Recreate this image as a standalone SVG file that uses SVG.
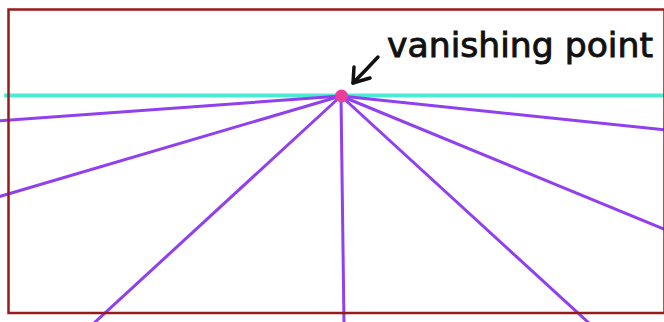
<svg xmlns="http://www.w3.org/2000/svg" width="664" height="322" viewBox="0 0 664 322">
  <style>
    .ray { stroke: #9040ef; stroke-width: 3; fill: none; stroke-linecap: round; }
    .horizon { stroke: #4eead6; stroke-width: 4; fill: none; }
    .frame { stroke: #9a1a1a; stroke-width: 2.5; fill: none; }
    .hand { stroke: #111; stroke-width: 3.5; fill: none; stroke-linecap: round; stroke-linejoin: round; }
    .label { font-family: "DejaVu Sans", "Liberation Sans", sans-serif; font-size: 34px; fill: #111; stroke: #111; stroke-width: 0.9; }
  </style>
  <rect width="664" height="322" fill="#ffffff"/>
  <g id="horizon">
    <line class="horizon" x1="4" y1="95.5" x2="664" y2="95.5"/>
  </g>
  <g id="connectors">
    <line class="ray" x1="341" y1="96" x2="-2" y2="121"/>
    <line class="ray" x1="341" y1="96" x2="-2" y2="197"/>
    <line class="ray" x1="341" y1="96" x2="93" y2="324"/>
    <line class="ray" x1="341" y1="96" x2="344" y2="324"/>
    <line class="ray" x1="341" y1="96" x2="590" y2="324"/>
    <line class="ray" x1="341" y1="96" x2="666" y2="230"/>
    <line class="ray" x1="341" y1="96" x2="666" y2="130"/>
  </g>
  <g id="frame">
    <rect class="frame" x="8.5" y="9.5" width="656" height="303.5"/>
  </g>
  <g id="vanishing-point">
    <circle cx="341.5" cy="96" r="6.5" fill="#e8409a"/>
  </g>
  <g id="label">
    <text class="label" x="387" y="57" textLength="266" lengthAdjust="spacingAndGlyphs">vanishing point</text>
    <path class="hand" d="M378 57 Q366 70 353 83"/>
    <path class="hand" d="M354 67 L353 83 L370 78"/>
  </g>
</svg>
